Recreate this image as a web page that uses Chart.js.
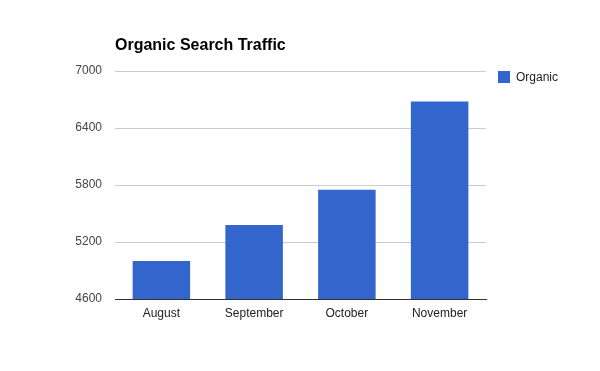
<!DOCTYPE html>
<html>
<head>
<meta charset="utf-8">
<script src="https://cdn.jsdelivr.net/npm/chart.js@4/dist/chart.umd.min.js"></script>
<style>
  html, body { margin: 0; padding: 0; background: #fff; }
  #wrap { width: 600px; height: 371px; position: relative; }
</style>
</head>
<body>
<div id="wrap"><canvas id="chartOrganico"></canvas></div>
<script>
// Datos de la gráfica
const meses = ['August', 'September', 'October', 'November'];
const visitasOrganicas = [5000, 5380, 5750, 6680];
const ticksY = [4600, 5200, 5800, 6400, 7000];
const tituloGrafica = 'Organic Search Traffic';
const nombreSerie = 'Organic';

const fuente = '"Liberation Sans", Arial, sans-serif';

// Título y leyenda dibujados a mano, al estilo de Google Charts
const tituloYLeyenda = {
    id: 'tituloYLeyenda',
    afterDraw(chart) {
        const ctx = chart.ctx;
        const area = chart.chartArea;
        ctx.save();
        ctx.fillStyle = '#000';
        ctx.font = 'bold 16px ' + fuente;
        ctx.textBaseline = 'alphabetic';
        ctx.textAlign = 'left';
        ctx.fillText(tituloGrafica, area.left, 50);

        const ds = chart.data.datasets[0];
        const x = area.right + 12;
        const y = area.top;
        ctx.fillStyle = ds.backgroundColor;
        ctx.fillRect(x, y, 12, 12);
        ctx.fillStyle = '#222';
        ctx.font = '12px ' + fuente;
        ctx.textBaseline = 'middle';
        ctx.fillText(ds.label, x + 18, y + 6.5);
        ctx.restore();
    }
};

const ctx = document.getElementById('chartOrganico').getContext('2d');

new Chart(ctx, {
    type: 'bar',
    data: {
        labels: meses,
        datasets: [{
            label: nombreSerie,
            data: visitasOrganicas,
            backgroundColor: '#3366cc',
            borderWidth: 0,
            categoryPercentage: 1,
            barPercentage: 0.62
        }]
    },
    options: {
        responsive: true,
        maintainAspectRatio: false,
        animation: false,
        layout: {
            padding: { top: 71, right: 114, bottom: 0, left: 0 }
        },
        scales: {
            x: {
                grid: { display: false, drawTicks: false },
                border: { display: true, color: '#333', width: 1 },
                ticks: { color: '#222', font: { family: fuente, size: 12 }, padding: 7 },
                afterFit: function (scale) { scale.height = 72; }
            },
            y: {
                min: 4600,
                max: 7000,
                afterBuildTicks: function (scale) {
                    scale.ticks = ticksY.map(v => ({ value: v }));
                },
                grid: { color: '#cccccc', drawTicks: false },
                border: { display: false },
                ticks: {
                    color: '#444',
                    font: { family: fuente, size: 12 },
                    padding: 13,
                    callback: function (value) { return String(value); }
                },
                afterFit: function (scale) { scale.width = 115; }
            }
        },
        plugins: {
            legend: { display: false },
            title: { display: false },
            tooltip: { enabled: false }
        }
    },
    plugins: [tituloYLeyenda]
});
</script>
</body>
</html>
